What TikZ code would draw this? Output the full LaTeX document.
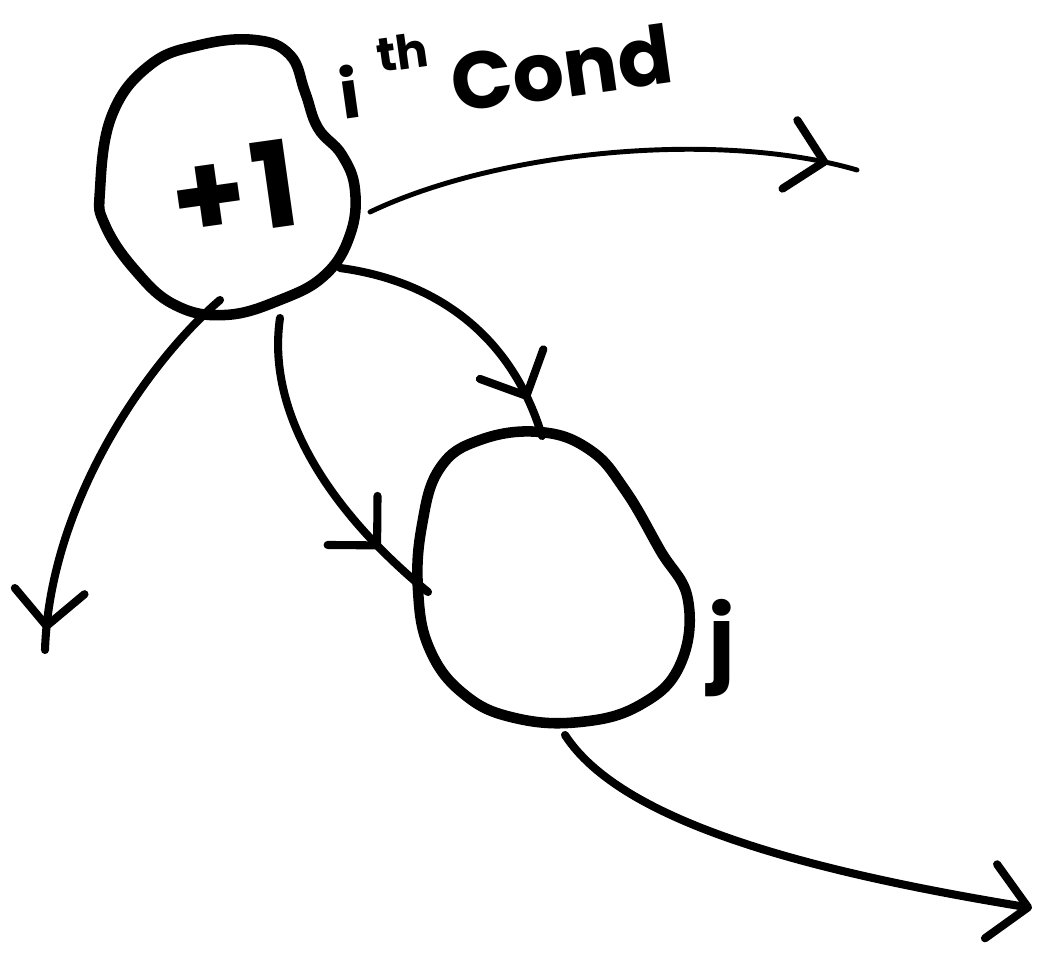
\documentclass[tikz,border=0pt]{standalone}
\usepackage{fontspec}
\setmainfont{Poppins}
\usetikzlibrary{arrows.meta,decorations.markings}

\begin{document}
\begin{tikzpicture}[x=0.02cm,y=-0.02cm,line cap=round,line join=round,
  blob/.style={draw,line width=6pt},
  wire/.style={draw,line width=4.6pt},
  thinwire/.style={draw,line width=2.8pt},
  barbtip/.style={-{Straight Barb[length=0.75cm,width=1.5cm,line width=4.6pt,round]}},
  midbarb/.style={postaction={decorate,decoration={markings,
    mark=at position #1 with {\arrow{Straight Barb[length=0.7cm,width=1.4cm,line width=4.6pt,round]}}}}},
  label/.style={inner sep=0pt,font=\bfseries}]

\useasboundingbox (0,0) rectangle (1038,956);

% upper blob
\path[blob] plot[smooth cycle,tension=0.7] coordinates {
  (100,190) (112,115) (150,65) (200,45) (255,40) (290,55) (305,92)
  (318,128) (342,155) (355,190) (350,235) (325,275) (280,300)
  (225,315) (175,305) (135,270) (105,225)};

% lower blob
\path[blob] plot[smooth cycle,tension=0.7] coordinates {
  (440,468) (480,440) (540,432) (590,450) (625,490) (660,550)
  (688,600) (680,665) (640,705) (580,722) (515,718) (465,695)
  (430,650) (418,590) (422,525)};

% connector end points
\coordinate (aR) at (370,212);
\coordinate (aRB) at (340,268);
\coordinate (aB) at (280,318);
\coordinate (aBL) at (220,300);
\coordinate (bT) at (542,436);
\coordinate (bL) at (428,592);
\coordinate (bB) at (565,735);
\coordinate (outR) at (857,170);
\coordinate (outL) at (45,650);
\coordinate (outBR) at (1032,908);

% connectors
\draw[thinwire,midbarb=0.94] (aR) .. controls (500,150) and (720,130) .. (outR);
\draw[wire,midbarb=0.86] (aRB) .. controls (430,280) and (510,330) .. (bT);
\draw[wire,midbarb=0.8] (aB) .. controls (265,420) and (340,520) .. (bL);
\draw[wire,midbarb=0.95] (aBL) .. controls (150,360) and (50,500) .. (outL);
\draw[wire,barbtip] (bB) .. controls (620,820) and (800,870) .. (outBR);

% labels
\node[label,rotate=8,font=\fontsize{68}{68}\selectfont\bfseries] (plus) at (234,190) {+\kern4pt1};
\node[label,rotate=8,font=\fontsize{38}{38}\selectfont\bfseries] (i) at (350,92) {i};
\node[label,rotate=8,font=\fontsize{27}{27}\selectfont\bfseries] (th) at (402,52) {th};
\node[label,rotate=8,font=\fontsize{46}{46}\selectfont\bfseries] (cond) at (562,68) {Cond};
\node[label,font=\fontsize{52}{52}\selectfont\bfseries] (j) at (722,648) {j};
\end{tikzpicture}
\end{document}
